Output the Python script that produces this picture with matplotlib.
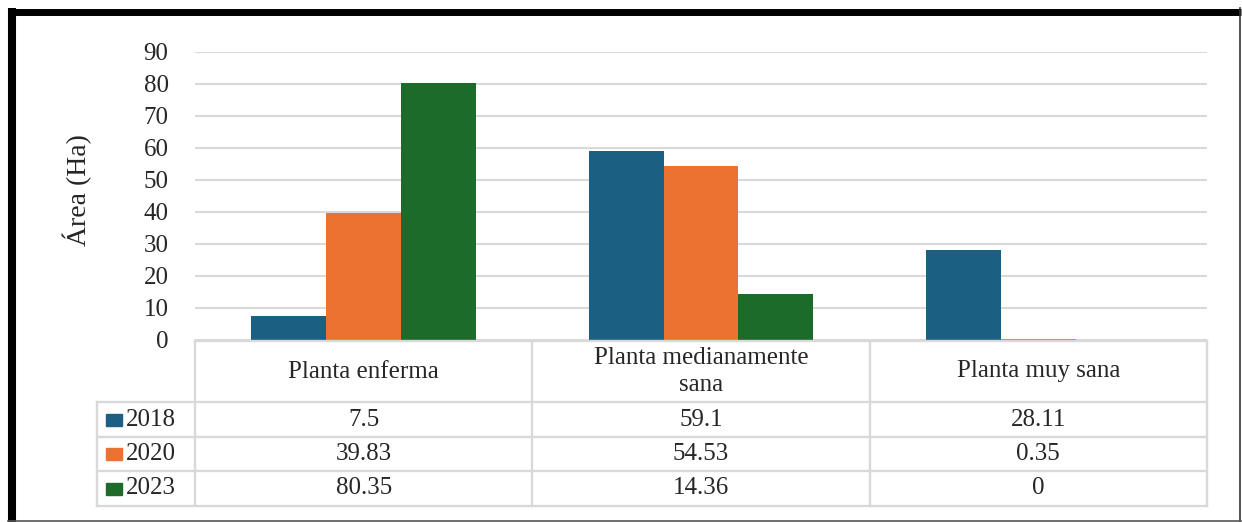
import matplotlib
matplotlib.use("Agg")
import matplotlib.pyplot as plt
import numpy as np

categories = ["Planta enferma", "Planta medianamente\nsana", "Planta muy sana"]
years = ["2018", "2020", "2023"]
values_2018 = [7.5, 59.1, 28.11]
values_2020 = [39.83, 54.53, 0.35]
values_2023 = [80.35, 14.36, 0]
colors = ["#1b5f82", "#ec7232", "#1c6b2b"]
yticks = [0, 10, 20, 30, 40, 50, 60, 70, 80, 90]

series = [values_2018, values_2020, values_2023]

plt.rcParams["font.family"] = ["Liberation Serif", "DejaVu Serif"]

W, H = 1242, 522
fig = plt.figure(figsize=(W / 100, H / 100), dpi=100)
fs = 18
txt_c = "#262626"

# plot area in pixels
left, right, top, bottom = 195, 1207, 52, 340
ax = fig.add_axes([left / W, 1 - bottom / H, (right - left) / W, (bottom - top) / H])

x = np.arange(len(categories))
bw = 0.222
for i, vals in enumerate(series):
    ax.bar(x + (i - 1) * bw, vals, width=bw, color=colors[i], zorder=3)

ax.set_xlim(-0.5, len(categories) - 0.5)
ax.set_ylim(0, 90)
ax.set_yticks(yticks)
ax.set_yticklabels([str(t) for t in yticks], fontsize=fs, color=txt_c)
ax.set_xticks([])
ax.tick_params(axis="y", length=0, pad=19)
ax.grid(axis="y", color="#d9d9d9", linewidth=1.5, zorder=0)
for s in ax.spines.values():
    s.set_visible(False)
ax.set_ylabel("Área (Ha)", fontsize=20, color=txt_c)
ax.yaxis.set_label_coords((92 - left) / (right - left), (bottom - 190) / (bottom - top))

# overlay for table + frame, in pixel coords
ov = fig.add_axes([0, 0, 1, 1], zorder=5)
ov.set_xlim(0, W)
ov.set_ylim(H, 0)
ov.axis("off")
ov.patch.set_alpha(0)

grid_c = "#d9d9d9"
lw = 1.7
col_edges = [left + (right - left) * k / len(categories) for k in range(len(categories) + 1)]
leg_left = 97
row_edges = [341, 402, 437, 471, 506]

ov.plot([left, right], [row_edges[0], row_edges[0]], color=grid_c, lw=lw)
for yy in row_edges[1:]:
    ov.plot([leg_left, right], [yy, yy], color=grid_c, lw=lw)
ov.plot([leg_left, leg_left], [row_edges[1], row_edges[-1]], color=grid_c, lw=lw)
for xx in col_edges:
    ov.plot([xx, xx], [row_edges[0], row_edges[-1]], color=grid_c, lw=lw)

for k, cat in enumerate(categories):
    cx = (col_edges[k] + col_edges[k + 1]) / 2
    ov.text(cx, (row_edges[0] + row_edges[1]) / 2, cat, ha="center", va="center",
            fontsize=fs, linespacing=1.3, color=txt_c)

for i, (yr, vals) in enumerate(zip(years, series)):
    cy = (row_edges[i + 1] + row_edges[i + 2]) / 2
    ov.add_patch(plt.Rectangle((106, cy - 6), 16, 12, color=colors[i]))
    ov.text(126, cy, yr, ha="left", va="center", fontsize=fs, color=txt_c)
    for k, v in enumerate(vals):
        cx = (col_edges[k] + col_edges[k + 1]) / 2
        ov.text(cx, cy, f"{v:g}", ha="center", va="center", fontsize=fs, color=txt_c)

# frame
ov.plot([12, 12], [8, 522], color="black", lw=5.8, solid_capstyle="butt")
ov.plot([8, 1241], [11.5, 11.5], color="black", lw=5.0, solid_capstyle="butt")
ov.plot([1240, 1240], [8, 521], color="#333333", lw=1.2)
ov.plot([8, 1241], [520.5, 520.5], color="#555555", lw=1.2)

fig.savefig("out.png", dpi=100)
